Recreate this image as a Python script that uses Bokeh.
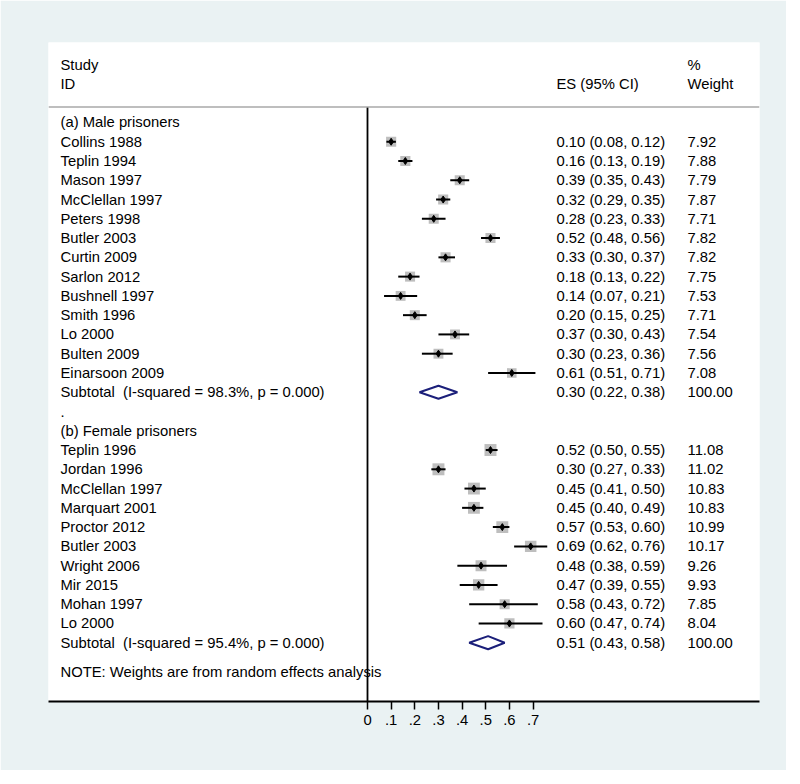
from bokeh.plotting import figure
from bokeh.models import ColumnDataSource, Range1d, FixedTicker, Span
from bokeh.core.properties import value
from bokeh.embed import file_html
from bokeh.resources import INLINE

# ---------------- data ----------------
male_studies = ["Collins 1988", "Teplin 1994", "Mason 1997", "McClellan 1997", "Peters 1998",
                "Butler 2003", "Curtin 2009", "Sarlon 2012", "Bushnell 1997", "Smith 1996",
                "Lo 2000", "Bulten 2009", "Einarsoon 2009"]
male_es = [0.10, 0.16, 0.39, 0.32, 0.28, 0.52, 0.33, 0.18, 0.14, 0.20, 0.37, 0.30, 0.61]
male_lo = [0.08, 0.13, 0.35, 0.29, 0.23, 0.48, 0.30, 0.13, 0.07, 0.15, 0.30, 0.23, 0.51]
male_hi = [0.12, 0.19, 0.43, 0.35, 0.33, 0.56, 0.37, 0.22, 0.21, 0.25, 0.43, 0.36, 0.71]
male_w = [7.92, 7.88, 7.79, 7.87, 7.71, 7.82, 7.82, 7.75, 7.53, 7.71, 7.54, 7.56, 7.08]
male_sub = (0.30, 0.22, 0.38, 100.00)
male_isq = "98.3%"

female_studies = ["Teplin 1996", "Jordan 1996", "McClellan 1997", "Marquart 2001", "Proctor 2012",
                  "Butler 2003", "Wright 2006", "Mir 2015", "Mohan 1997", "Lo 2000"]
female_es = [0.52, 0.30, 0.45, 0.45, 0.57, 0.69, 0.48, 0.47, 0.58, 0.60]
female_lo = [0.50, 0.27, 0.41, 0.40, 0.53, 0.62, 0.38, 0.39, 0.43, 0.47]
female_hi = [0.55, 0.33, 0.50, 0.49, 0.60, 0.76, 0.59, 0.55, 0.72, 0.74]
female_w = [11.08, 11.02, 10.83, 10.83, 10.99, 10.17, 9.26, 9.93, 7.85, 8.04]
female_sub = (0.51, 0.43, 0.58, 100.00)
female_isq = "95.4%"

tick_values = [0, 0.1, 0.2, 0.3, 0.4, 0.5, 0.6, 0.7]
tick_labels = ["0", ".1", ".2", ".3", ".4", ".5", ".6", ".7"]

# ---------------- layout helpers ----------------
X0_PX, PX_PER_UNIT, FRAME_LEFT_PX = 367.0, 236.5, 48.0
def px2x(px):
    return (px - X0_PX) / PX_PER_UNIT

FONT = value("Liberation Sans")
FS = "14.8px"
BG = "#EAF2F3"

# rows
study_rows, study_es, study_lo, study_hi, study_w = [], [], [], [], []
label_rows, label_txt = [], []
sub_rows, sub_es, sub_lo, sub_hi = [], [], [], []
es_rows, es_txt, w_txt = [], [], []

def add_group(start, title, studies, es, lo, hi, w, sub, isq):
    r = start
    label_rows.append(r); label_txt.append(title)
    r += 1
    for s, e, l, h, ww in zip(studies, es, lo, hi, w):
        study_rows.append(r); study_es.append(e); study_lo.append(l); study_hi.append(h); study_w.append(ww)
        label_rows.append(r); label_txt.append(s)
        es_rows.append(r); es_txt.append(f"{e:.2f} ({l:.2f}, {h:.2f})"); w_txt.append(f"{ww:.2f}")
        r += 1
    label_rows.append(r); label_txt.append(f"Subtotal\u00a0 (I-squared = {isq}, p = 0.000)")
    sub_rows.append(r); sub_es.append(sub[0]); sub_lo.append(sub[1]); sub_hi.append(sub[2])
    es_rows.append(r); es_txt.append(f"{sub[0]:.2f} ({sub[1]:.2f}, {sub[2]:.2f})"); w_txt.append(f"{sub[3]:.2f}")
    return r + 1

nxt = add_group(0, "(a) Male prisoners", male_studies, male_es, male_lo, male_hi, male_w, male_sub, male_isq)
label_rows.append(nxt); label_txt.append(".")
last = add_group(nxt + 1, "(b) Female prisoners", female_studies, female_es, female_lo, female_hi,
                 female_w, female_sub, female_isq)
note_row = last + 0.5
bottom_row = last + 2.05

# ---------------- figure ----------------
p = figure(width=786, height=770, output_backend="svg", toolbar_location=None,
           x_range=Range1d(px2x(FRAME_LEFT_PX), px2x(759)),
           y_range=Range1d(bottom_row, -4.15),
           min_border_left=48, min_border_right=27, min_border_top=42, min_border_bottom=69)
p.border_fill_color = BG
p.background_fill_color = "white"
p.outline_line_color = None
p.grid.visible = False
p.yaxis.visible = False

ax = p.xaxis[0]
ax.ticker = FixedTicker(ticks=tick_values)
ax.major_label_overrides = {v: t for v, t in zip(tick_values, tick_labels)}
ax.minor_tick_line_color = None
ax.major_tick_out = 8
ax.major_tick_in = 0
ax.major_tick_line_width = 1.5
ax.axis_line_width = 2
ax.axis_line_color = "black"
ax.major_label_text_font = "Liberation Sans"
ax.major_label_text_font_size = FS
ax.major_label_text_color = "black"
ax.major_label_standoff = 5

# header line and null line
p.add_layout(Span(location=-0.8, dimension="width", line_color="#A8A8A8", line_width=1.5))
p.segment(x0=[0], y0=[-0.8], x1=[0], y1=[bottom_row], line_color="black", line_width=1.8)

# studies
src = ColumnDataSource(dict(
    y=study_rows, es=study_es, lo=study_lo, hi=study_hi,
    size=[3.6 * (w ** 0.5) for w in study_w]))
p.scatter(x="es", y="y", size="size", marker="square", source=src,
          fill_color="#BEBEBE", line_color=None)
p.segment(x0="lo", y0="y", x1="hi", y1="y", source=src, line_color="black", line_width=2)
p.scatter(x="es", y="y", size=7, marker="diamond", source=src,
          fill_color="black", line_color="black")

# subtotal diamonds
hh = 0.34
xs = [[l, e, h, e] for l, e, h in zip(sub_lo, sub_es, sub_hi)]
ys = [[r, r - hh, r, r + hh] for r in sub_rows]
p.patches(xs=xs, ys=ys, fill_color=None, line_color="#1B1F7A", line_width=2)

# texts
txt_kw = dict(text_font=FONT, text_font_size=FS, text_color="black", text_baseline="middle", text_align="left")
p.text(x=[px2x(60)] * len(label_rows), y=label_rows, text=label_txt, **txt_kw)
p.text(x=[px2x(60)], y=[note_row], text=["NOTE: Weights are from random effects analysis"], **txt_kw)
p.text(x=[px2x(556)] * len(es_rows), y=es_rows, text=es_txt, **txt_kw)
p.text(x=[px2x(687)] * len(es_rows), y=es_rows, text=w_txt, **txt_kw)

# column headers
p.text(x=[px2x(60), px2x(60), px2x(556), px2x(687), px2x(687)],
       y=[-3, -2, -2, -3, -2],
       text=["Study", "ID", "ES (95% CI)", "%", "Weight"], **txt_kw)

open("out.html", "w").write(file_html(p, INLINE))
